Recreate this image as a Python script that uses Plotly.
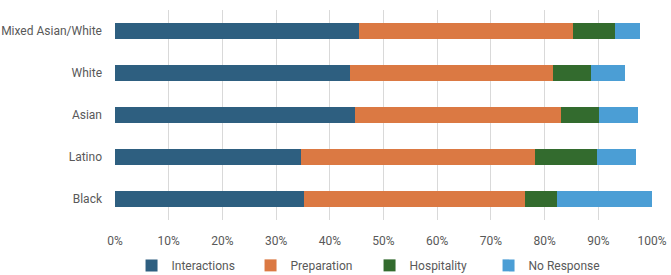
import plotly.graph_objects as go

categories = ["Black", "Latino", "Asian", "White", "Mixed Asian/White"]
interactions = [35.2, 34.7, 44.6, 43.8, 45.4]
preparation = [41.2, 43.5, 38.5, 37.7, 39.8]
hospitality = [6.0, 11.6, 7.0, 7.2, 7.9]
no_response = [17.6, 7.3, 7.3, 6.3, 4.7]

series = [
    ("Interactions", interactions, "#2E5F80"),
    ("Preparation", preparation, "#DB7943"),
    ("Hospitality", hospitality, "#336B2E"),
    ("No Response", no_response, "#4B9ED5"),
]

font_family = "Roboto, sans-serif"

fig = go.Figure()
for name, vals, color in series:
    fig.add_trace(go.Bar(
        y=categories, x=vals, name=name, orientation="h",
        marker=dict(color=color, line=dict(width=0)),
    ))

fig.update_layout(
    barmode="stack",
    bargap=0.62,
    width=671, height=275,
    margin=dict(l=115, r=19, t=10, b=55),
    paper_bgcolor="white", plot_bgcolor="white",
    font=dict(family=font_family, size=12, color="#595959"),
    showlegend=True,
    legend=dict(orientation="h", x=0.474, xanchor="center",
                yref="container", y=0.035, yanchor="middle",
                font=dict(size=12, color="#595959"), traceorder="normal",
                itemwidth=30, entrywidth=74, entrywidthmode="pixels"),
    xaxis=dict(range=[0, 100], tickvals=list(range(0, 101, 10)),
               ticktext=[f"{v}%" for v in range(0, 101, 10)],
               showgrid=True, gridcolor="#D9D9D9", gridwidth=1,
               zeroline=False, showline=False, ticks="", automargin=False,
               ticklabelstandoff=12),
    yaxis=dict(showgrid=False, zeroline=False, showline=False, ticks="",
               automargin=False, ticklabelstandoff=12,
               categoryorder="array", categoryarray=categories),
)

fig.write_html("out.html")
